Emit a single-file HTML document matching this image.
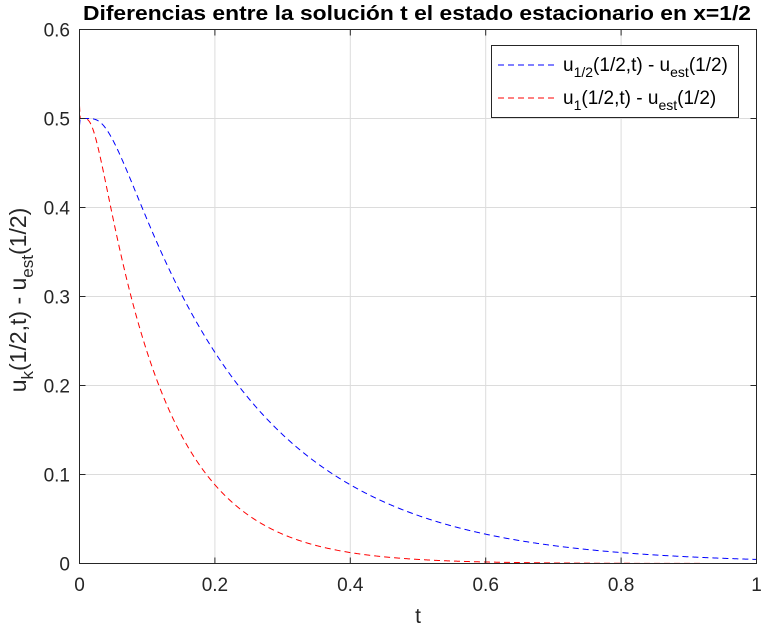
<!DOCTYPE html>
<html><head><meta charset="utf-8"><style>
body{margin:0;background:#fff;}
svg{display:block;font-family:"Liberation Sans",Arial,sans-serif;}
</style></head><body>
<svg id="s" width="761" height="627" viewBox="0 0 761 627">
<rect width="761" height="627" fill="#fff"/>
<g id="grid" stroke="#dcdcdc" stroke-width="1"></g>
<path id="pb" fill="none" stroke="#0000ff" stroke-width="1" stroke-dasharray="6,4"/>
<path id="pr" fill="none" stroke="#ff0000" stroke-width="1" stroke-dasharray="6,4"/>
<rect x="79.5" y="29.5" width="677" height="534" fill="none" stroke="#262626" stroke-width="1"/>
<g id="ticks" font-size="19" fill="#262626"></g>
<text x="83" y="20" font-size="20" font-weight="bold" textLength="668" lengthAdjust="spacingAndGlyphs" fill="#000">Diferencias entre la solución t el estado estacionario en x=1/2</text>
<text x="418" y="623" font-size="21" text-anchor="middle" fill="#262626">t</text>
<text transform="translate(26,300) rotate(-90)" font-size="23" text-anchor="middle" fill="#262626">u<tspan font-size="17" dy="7">k</tspan><tspan dy="-7">(1/2,t) - u</tspan><tspan font-size="17" dy="7">est</tspan><tspan dy="-7">(1/2)</tspan></text>
<rect x="491.5" y="45.5" width="247" height="72" fill="#fff" stroke="#262626" stroke-width="1"/>
<line x1="498" y1="65" x2="555" y2="65" stroke="#0000ff" stroke-dasharray="6,4"/>
<line x1="498" y1="98" x2="555" y2="98" stroke="#ff0000" stroke-dasharray="6,4"/>
<text x="563" y="71" font-size="19" fill="#000">u<tspan font-size="14" dy="6">1/2</tspan><tspan dy="-6">(1/2,t) - u</tspan><tspan font-size="14" dy="6">est</tspan><tspan dy="-6">(1/2)</tspan></text>
<text x="563" y="104" font-size="19" fill="#000">u<tspan font-size="14" dy="6">1</tspan><tspan dy="-6">(1/2,t) - u</tspan><tspan font-size="14" dy="6">est</tspan><tspan dy="-6">(1/2)</tspan></text>
</svg>
<script>
var X0=79.5,X1=756.5,Y0=563.5,Y1=29.5;
function px(t){return X0+(X1-X0)*t;}
function py(v){return Y0-(Y0-Y1)*v/0.6;}
var g=document.getElementById('grid'),tk=document.getElementById('ticks'),NS='http://www.w3.org/2000/svg';
function el(p,n,a,txt){var e=document.createElementNS(NS,n);for(var k in a)e.setAttribute(k,a[k]);if(txt!==undefined)e.textContent=txt;p.appendChild(e);}
for(var i=0;i<=5;i++){var x=px(i*0.2);if(i>0&&i<5)el(g,'line',{x1:x,y1:Y0,x2:x,y2:Y1});
el(tk,'line',{x1:x,y1:Y0,x2:x,y2:Y0-6,stroke:'#262626'});el(tk,'line',{x1:x,y1:Y1,x2:x,y2:Y1+6,stroke:'#262626'});
el(tk,'text',{x:x,y:591,'text-anchor':'middle'},i==0?'0':i==5?'1':(i*0.2).toFixed(1));}
for(var j=0;j<=6;j++){var y=py(j*0.1);if(j>0&&j<6)el(g,'line',{x1:X0,y1:y,x2:X1,y2:y});
el(tk,'line',{x1:X0,y1:y,x2:X0+6,y2:y,stroke:'#262626'});el(tk,'line',{x1:X1,y1:y,x2:X1-6,y2:y,stroke:'#262626'});
el(tk,'text',{x:70,y:y+7,'text-anchor':'end'},j==0?'0':(j*0.1).toFixed(1));}
function f(t,k,N){var s=0;for(var m=0;m<N;m++){var n=2*m+1;s+=(m%2?-1:1)/n*Math.exp(-n*n*Math.PI*Math.PI*k*t);}return 2/Math.PI*s;}
function path(k,N){var d='';for(var i=0;i<=1000;i++){var t=i/1000;d+=(i?'L':'M')+px(t).toFixed(2)+','+py(f(t,k,N)).toFixed(2);}return d;}
document.getElementById('pb').setAttribute('d',path(0.5,20));
document.getElementById('pr').setAttribute('d',path(1,11));
</script>
</body></html>
